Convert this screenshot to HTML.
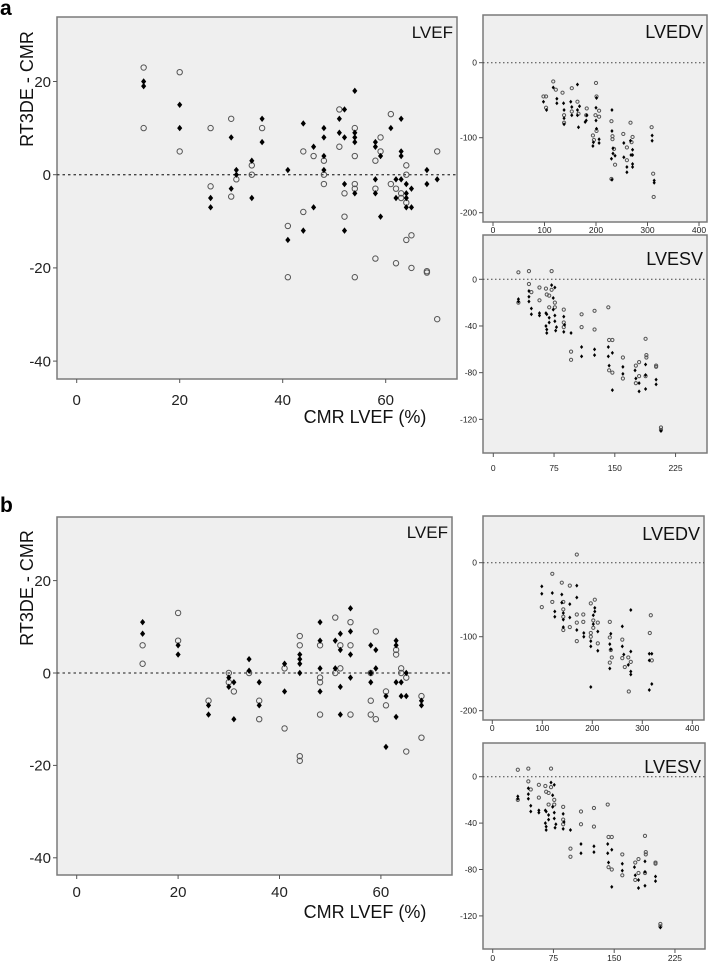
<!DOCTYPE html>
<html><head><meta charset="utf-8">
<style>
html,body{margin:0;padding:0;background:#fff;}
svg{display:block;font-family:"Liberation Sans",sans-serif;}
</style></head>
<body>
<svg id="fig" width="708" height="965" viewBox="0 0 708 965" xmlns="http://www.w3.org/2000/svg">
<text x="0" y="15" font-size="21" font-weight="bold">a</text>
<text x="0" y="512" font-size="21" font-weight="bold">b</text>
</svg>
<script>
// ---- data: [CMR value, RT3DE - CMR difference] ----
const aLvefOpen = [[13,23],[13,10],[20,22],[20,5],[26,10],[26,-2.5],[30,12],[30,-4.7],[31,-1],[34,2],[34,0],[36,10],[41,-11],[41,-22],[44,5],[44,-8],[46,4],[48,3],[48,0],[48,-2],[51,14],[51,6],[52,-4],[52,-9],[54,10],[54,4],[54,-2],[54,-3],[54,-22],[58,3],[58,-3],[58,-18],[59,8],[59,5],[61,13],[61,-2],[62,-3],[62,-19],[63,-4],[63,-5],[64,2],[64,0],[64,-6],[64,-14],[65,-13],[65,-20],[68,-21],[68,-20.7],[70,5],[70,-31]];
const aLvefFilled = [[13,20],[13,19],[20,15],[20,10],[26,-5],[26,-7],[30,8],[30,-3],[31,1],[31,0],[34,3],[34,-5],[36,12],[36,7],[41,1],[41,-14],[44,11],[44,-12],[46,6],[46,-7],[48,10],[48,8],[48,4],[48,1],[51,12],[51,9],[52,14],[52,8],[52,-2],[52,-12],[54,18],[54,9],[54,8],[54,7],[54,-4],[58,7],[58,6],[58,-1],[58,-4],[59,4],[59,-9],[61,10],[62,-1],[62,-5],[63,12],[63,5],[63,4],[63,-1],[64,-2],[64,-4],[64,-5],[64,-7],[65,-3],[65,-7],[68,1],[68,-2],[70,-1]];
const bLvefOpen = [[13,6],[13,2],[20,13],[20,7],[26,-6],[30,0],[30,-2],[31,-4],[34,0],[36,-6],[36,-10],[41,1],[41,-12],[44,8],[44,6],[44,-18],[44,-19],[48,6],[48,-1],[48,-2],[48,-9],[51,12],[51,0],[52,6],[52,1],[54,11],[54,6],[54,-9],[58,0],[58,-6],[58,-9],[59,9],[59,-10],[61,-4],[61,-7],[63,5],[63,4],[64,1],[64,0],[65,-1],[65,-17],[68,-5],[68,-14]];
const bLvefFilled = [[13,11],[13,8.5],[20,6],[20,4],[26,-7],[26,-9],[30,-1],[30,-3],[31,-2],[31,-10],[34,3],[34,0.5],[36,-2],[36,-7],[41,2],[41,-4],[44,4],[44,3],[44,2],[44,0],[48,11],[48,7],[48,1],[48,-4],[51,7],[51,1],[52,8.5],[52,5],[52,-3],[52,-9],[54,14],[54,9],[54,4],[54,-1],[58,6],[58,0],[58,-2],[59,5],[59,1],[61,-5],[61,-16],[63,7],[63,6],[63,-2],[63,-9.5],[64,-2],[64,-5],[65,0],[65,-5],[68,-6],[68,-7]];
const aEdvOpen = [[98,-45],[103,-45],[103,-60],[117,-25],[122,-36],[135,-40],[138,-70],[138,-80],[153,-34],[153,-65],[164,-52],[166,-68],[182,-61],[181,-70],[194,-97],[196,-103],[200,-27],[199,-70],[201,-45],[201,-91],[206,-64],[206,-72],[230,-78],[232,-98],[232,-102],[235,-115],[237,-136],[253,-95],[260,-113],[260,-130],[267,-80],[269,-106],[271,-99],[308,-86],[311,-148],[312,-179],[230,-155]];
const aEdvFilled = [[98,-52],[104,-63],[117,-33],[124,-48],[124,-54],[137,-54],[138,-63],[138,-74],[138,-82],[151,-52],[153,-59],[153,-70],[164,-63],[164,-70],[164,-29],[166,-86],[168,-58],[179,-79],[182,-70],[181,-77],[194,-111],[195,-106],[200,-77],[200,-60],[201,-47],[201,-88],[206,-102],[206,-107],[231,-63],[231,-91],[233,-114],[233,-121],[230,-128],[237,-124],[231,-156],[254,-107],[254,-126],[260,-139],[260,-146],[267,-104],[271,-116],[271,-123],[271,-135],[271,-139],[268,-123],[309,-97],[309,-104],[313,-157],[313,-160]];
const bEdvOpen = [[169,11],[120,-15],[99,-60],[120,-53],[139,-27],[142,-53],[142,-63],[142,-73],[142,-91],[155,-31],[155,-87],[169,-70],[169,-81],[169,-106],[182,-70],[182,-80],[197,-55],[205,-50],[197,-95],[197,-100],[202,-78],[202,-88],[211,-81],[211,-109],[235,-80],[235,-101],[235,-135],[237,-118],[239,-128],[260,-104],[260,-129],[265,-141],[272,-128],[273,-174],[277,-134],[315,-95],[317,-71],[319,-132]];
const bEdvFilled = [[99,-32],[99,-42],[120,-41],[125,-66],[125,-73],[139,-43],[139,-54],[142,-68],[142,-77],[142,-87],[155,-56],[155,-74],[169,-31],[169,-47],[169,-91],[183,-95],[183,-100],[197,-113],[197,-106],[197,-168],[202,-83],[202,-71],[205,-61],[205,-66],[211,-93],[211,-119],[235,-110],[237,-96],[237,-117],[235,-143],[260,-86],[260,-113],[263,-124],[272,-138],[277,-64],[277,-120],[277,-147],[277,-151],[314,-123],[319,-123],[314,-132],[314,-172],[319,-164]];
const esvOpen = [[31,6],[44,7],[44,-4],[47,-11],[31,-20],[57,-7],[57,-18],[65,-8],[66,-13],[69,-14],[72,7],[72,-9],[69,-24],[76,-20],[76,-24],[87,-26],[87,-37],[87,-41],[96,-62],[96,-69],[109,-30],[109,-41],[125,-27],[125,-43],[142,-24],[143,-52],[147,-52],[143,-78],[147,-80],[160,-67],[160,-85],[176,-74],[176,-89],[180,-71],[180,-83],[188,-51],[189,-65],[189,-67],[188,-83],[201,-74],[201,-75],[207,-127],[207,-129]];
const esvFilled = [[31,-17],[31,-19],[44,-10],[44,-15],[44,-19],[47,-25],[47,-30],[57,-29],[57,-31],[65,-29],[65,-40],[66,-43],[66,-46],[66,-30],[69,-33],[69,-37],[72,-5],[76,-7],[74,-16],[74,-26],[76,-31],[76,-36],[77,-44],[78,-41],[87,-32],[87,-45],[88,-39],[96,-46],[109,-58],[109,-66],[125,-60],[125,-65],[142,-58],[142,-66],[143,-74],[147,-63],[147,-95],[160,-75],[160,-81],[175,-78],[176,-85],[180,-89],[180,-96],[188,-73],[188,-82],[188,-94],[201,-86],[201,-90],[207,-130]];
const lvefXTicks = [0,20,40,60];
const lvefYTicks = [20,0,-20,-40];
const edvXTicks = [0,100,200,300,400];
const edvYTicks = [0,-100,-200];
const esvXTicks = [0,75,150,225];
const esvYTicks = [0,-40,-80,-120];

const NS = "http://www.w3.org/2000/svg";
const svg = document.getElementById('fig');
function mk(tag, attrs, parent){
  const e = document.createElementNS(NS, tag);
  for (const k in attrs) e.setAttribute(k, attrs[k]);
  (parent||svg).appendChild(e);
  return e;
}
function panel(c, openPts, filledPts, xTicks, yTicks){
  const g = mk('g', {});
  
  
  const xs = v => c.x0 + c.kx * v;
  const ys = v => c.y0 - c.ky * v;
  const bg = mk('rect', {x:c.box[0], y:c.box[1], width:c.box[2]-c.box[0], height:c.box[3]-c.box[1], fill:'#efefef', stroke:'#7a7a7a', 'stroke-width':1.5}, g);
  
  
  const zl = mk('line', {x1:c.box[0], x2:c.box[2], y1:ys(0), y2:ys(0), stroke:'#444', 'stroke-width':c.big?1.3:1, 'stroke-dasharray':c.big?'2.5,3':'1.5,2.5'}, g);
  
  
  xTicks.forEach(t => {
    mk('line', {x1:xs(t), x2:xs(t), y1:c.box[3], y2:c.box[3]+4, stroke:'#555', 'stroke-width':1}, g);
    const tx = mk('text', {x:xs(t), y:c.xLabY, 'font-size':c.fs, 'text-anchor':'middle', fill:'#222'}, g);
    tx.textContent = t;
    
    
  });
  yTicks.forEach(t => {
    mk('line', {x1:c.box[0]-4, x2:c.box[0], y1:ys(t), y2:ys(t), stroke:'#555', 'stroke-width':1}, g);
    const ty = mk('text', {x:c.box[0]-6, y:ys(t)+c.fs*0.35, 'font-size':c.fs, 'text-anchor':'end', fill:'#222'}, g);
    ty.textContent = t;
    
    
  });
  const lab = mk('text', {x:c.box[2]-4, y:c.labY, 'font-size':c.labFs, 'text-anchor':'end', fill:'#111'}, g);
  lab.textContent = c.label;
  
  
  openPts.forEach(p => {
    const m = mk('circle', {cx:xs(p[0]), cy:ys(p[1]), r:c.r, fill:'none', stroke:'#555', 'stroke-width':1}, g);
    
    
  });
  filledPts.forEach(p => {
    const x = xs(p[0]), y = ys(p[1]), d = c.d;
    const m = mk('polygon', {points:`${x},${y-d} ${x+d*0.8},${y} ${x},${y+d} ${x-d*0.8},${y}`, fill:'#000'}, g);
    
    
  });
}
panel({name:'panel-a-lvef', big:true, box:[57,17,457,379], x0:76.7, kx:5.15, y0:174.7, ky:4.66, fs:15, xLabY:405, label:'LVEF', labY:38, labFs:17, r:2.7, d:3.2}, aLvefOpen, aLvefFilled, lvefXTicks, lvefYTicks);
panel({name:'panel-b-lvef', big:true, box:[57,517,452,875], x0:76.7, kx:5.07, y0:673, ky:4.62, fs:15, xLabY:897, label:'LVEF', labY:538, labFs:17, r:2.7, d:3.2}, bLvefOpen, bLvefFilled, lvefXTicks, lvefYTicks);
panel({name:'panel-a-lvedv', box:[483,15,707,222], x0:493, kx:0.515, y0:62.7, ky:0.75, fs:8.5, xLabY:233, label:'LVEDV', labY:38, labFs:18, r:1.6, d:2}, aEdvOpen, aEdvFilled, edvXTicks, edvYTicks);
panel({name:'panel-a-lvesv', box:[483,235,707,453], x0:493.3, kx:0.81, y0:279.3, ky:1.167, fs:8.5, xLabY:471, label:'LVESV', labY:265, labFs:18, r:1.6, d:2}, esvOpen, esvFilled, esvXTicks, esvYTicks);
panel({name:'panel-b-lvedv', box:[483,516,704,720], x0:492.3, kx:0.5, y0:562.7, ky:0.74, fs:8.5, xLabY:731, label:'LVEDV', labY:540, labFs:18, r:1.6, d:2}, bEdvOpen, bEdvFilled, edvXTicks, edvYTicks);
panel({name:'panel-b-lvesv', box:[483,743,705,949], x0:492.7, kx:0.81, y0:776.7, ky:1.16, fs:8.5, xLabY:961, label:'LVESV', labY:773, labFs:18, r:1.6, d:2}, esvOpen, esvFilled, esvXTicks, esvYTicks);

[['a',89,423],['b',588,918]].forEach(([p,yc,xb]) => {
  const yt = mk('text', {x:0, y:0, 'font-size':18, 'text-anchor':'middle', transform:`translate(33,${yc}) rotate(-90)`, fill:'#111'});
  yt.textContent = 'RT3DE - CMR';
  
  
  const xt = mk('text', {x:365, y:xb, 'font-size':18, 'text-anchor':'middle', fill:'#111'});
  xt.textContent = 'CMR LVEF (%)';
  
  
});
</script>
</body></html>
